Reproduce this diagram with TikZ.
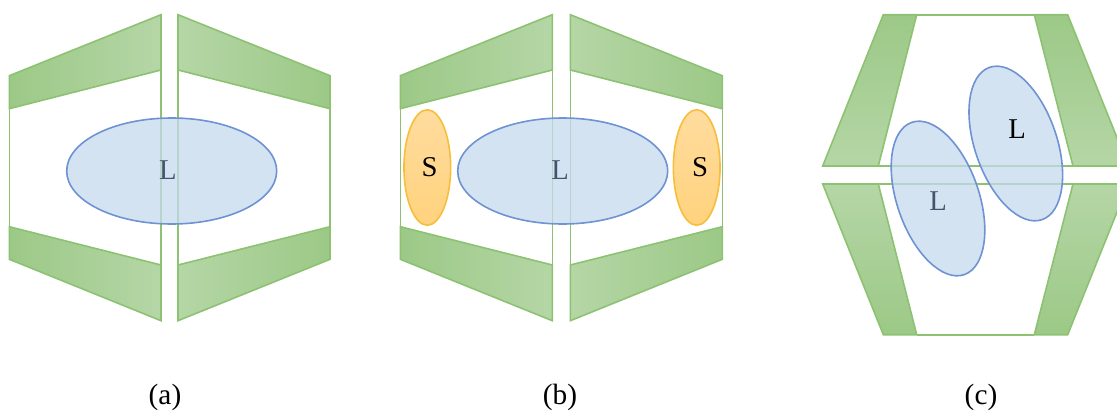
\documentclass[tikz,border=0pt]{standalone}
\usepackage{fontspec}
\setmainfont{Liberation Serif}
\definecolor{gdark}{HTML}{9CC987}
\definecolor{glight}{HTML}{B5D6A6}
\definecolor{gline}{HTML}{8CC272}
\definecolor{bfill}{HTML}{C5DAEE}
\definecolor{bline}{HTML}{6E92D2}
\definecolor{ofillA}{HTML}{FFDC9E}
\definecolor{ofillB}{HTML}{FFD27D}
\definecolor{oline}{HTML}{F7BE3C}
\definecolor{slate}{HTML}{44546A}
\tikzset{
  x=0.75pt,y=-0.75pt,
  wall/.style={draw=gline,line width=1.2pt,line join=miter},
  wallLR/.style={wall,left color=gdark,right color=glight},
  wallRL/.style={wall,left color=glight,right color=gdark},
  wallTB/.style={wall,top color=gdark,bottom color=glight},
  wallBT/.style={wall,top color=glight,bottom color=gdark},
  wallframe/.style={draw=gline,line width=1.2pt},
  blob/.style={draw=bline,line width=1.2pt,fill=bfill,fill opacity=0.75},
  sblob/.style={draw=oline,line width=1.2pt,top color=ofillA,bottom color=ofillB},
  tag/.style={inner sep=0pt,font=\fontsize{21.5}{24}\selectfont},
  captext/.style={inner sep=0pt,font=\fontsize{22}{24}\selectfont}
}
\newcommand{\panelH}[4]{% left outer, left inner, right inner, right outer
  \path[wallLR] (#1,75.7) -- (#2,14.7) -- (#2,70) -- (#1,108.7) -- cycle;
  \path[wallRL] (#3,14.7) -- (#4,75.7) -- (#4,108.7) -- (#3,70) -- cycle;
  \path[wallLR] (#1,226.7) -- (#2,265) -- (#2,320.7) -- (#1,259.3) -- cycle;
  \path[wallRL] (#3,265) -- (#4,226.7) -- (#4,259.3) -- (#3,320.7) -- cycle;
  \draw[wallframe] (#1,108.7) -- (#1,226.7);
  \draw[wallframe] (#4,108.7) -- (#4,226.7);
  \draw[wallframe] (#2,70) -- (#2,265);
  \draw[wallframe] (#3,70) -- (#3,265);
}
\begin{document}
\begin{tikzpicture}
\useasboundingbox (0,0) rectangle (1117,414);
\clip (0,0) rectangle (1117,414);
% panel a
\panelH{9.3}{161}{178}{330}
\draw[blob] (171.7,171) ellipse [x radius=78.75pt,y radius=39.75pt];
\node[tag,text=slate] (La) at (168,170.5) {L};
% panel b
\panelH{400.3}{552.3}{570.3}{722.3}
\draw[blob] (562.7,171) ellipse [x radius=78.75pt,y radius=39.75pt];
\node[tag,text=slate] (Lb) at (560,170.5) {L};
\draw[sblob] (427.3,167.5) ellipse [x radius=17.5pt,y radius=43.3pt];
\draw[sblob] (696.7,167.5) ellipse [x radius=17.5pt,y radius=43.3pt];
\node[tag] (Sb1) at (429.5,167) {S};
\node[tag] (Sb2) at (700,167) {S};
% panel c
\path[wallTB] (883.3,14.7) -- (916.7,14.7) -- (878.3,166) -- (822.7,166) -- cycle;
\path[wallTB] (1034.3,14.7) -- (1067.7,14.7) -- (1128.3,166) -- (1073,166) -- cycle;
\path[wallBT] (822.7,184) -- (878.3,184) -- (916.7,334.7) -- (883.3,334.7) -- cycle;
\path[wallBT] (1073,184) -- (1128.3,184) -- (1067.7,334.7) -- (1034.3,334.7) -- cycle;
\draw[wallframe] (916.7,14.7) -- (1034.3,14.7);
\draw[wallframe] (916.7,334.7) -- (1034.3,334.7);
\draw[wallframe] (878.3,166) -- (1073,166);
\draw[wallframe] (878.3,184) -- (1073,184);
\draw[blob,shift={(1015.8,143.5)},rotate=19] (0,0) ellipse [x radius=30.75pt,y radius=60.4pt];
\draw[blob,shift={(938,198.5)},rotate=19] (0,0) ellipse [x radius=30.75pt,y radius=60.4pt];
\node[tag] (Lc1) at (1017,129.5) {L};
\node[tag,text=slate] (Lc2) at (938,201) {L};
% captions
\node[captext] (capa) at (165,397) {(a)};
\node[captext] (capb) at (560,397) {(b)};
\node[captext] (capc) at (981,397) {(c)};
\end{tikzpicture}
\end{document}
